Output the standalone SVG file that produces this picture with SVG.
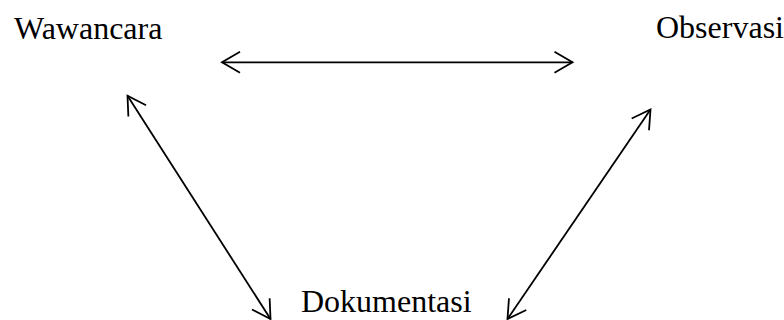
<svg xmlns="http://www.w3.org/2000/svg" width="784" height="320" viewBox="0 0 784 320">
  <style>
    .label { font-family: "Liberation Serif", "Times New Roman", serif; font-size: 32px; fill: #000; }
    .link { stroke: #000; stroke-width: 1.8; fill: none; marker-start: url(#head); marker-end: url(#head); }
  </style>
  <defs>
    <marker id="head" markerUnits="userSpaceOnUse" viewBox="-22 -13 24 26" markerWidth="24" markerHeight="26" refX="0" refY="0" orient="auto-start-reverse" overflow="visible">
      <path d="M -18 -10.5 L 0 0 L -18 10.5" fill="none" stroke="#000" stroke-width="1.8" stroke-linejoin="miter"/>
    </marker>
  </defs>
  <rect width="784" height="320" fill="#fff"/>

  <g id="wawancara">
    <text class="label" x="14" y="39">Wawancara</text>
  </g>
  <g id="observasi">
    <text class="label" x="656" y="38">Observasi</text>
  </g>
  <g id="dokumentasi">
    <text class="label" x="301" y="312">Dokumentasi</text>
  </g>

  <g id="connectors">
    <line class="link" x1="222" y1="62.3" x2="572.5" y2="62.3"/>
    <line class="link" x1="127.5" y1="95.7" x2="270.5" y2="319"/>
    <line class="link" x1="650.5" y1="109.5" x2="507.5" y2="319"/>
  </g>
</svg>
